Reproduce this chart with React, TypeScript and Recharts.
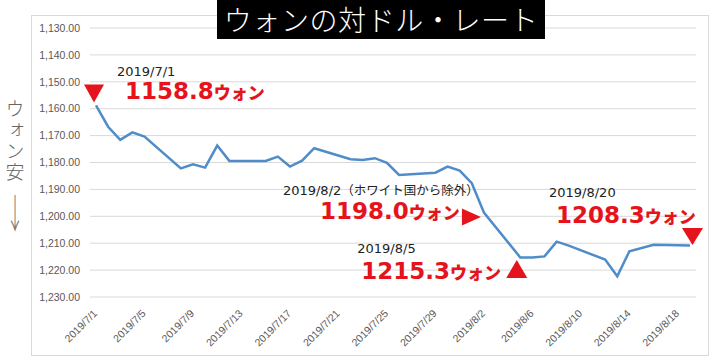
import React from "react";
import { LineChart, Line, XAxis, YAxis, CartesianGrid, ReferenceDot } from "recharts";

// calendar days on the x axis (weekends / holidays have no rate)
const days = [
  "2019/7/1", "2019/7/2", "2019/7/3", "2019/7/4", "2019/7/5", "2019/7/6", "2019/7/7",
  "2019/7/8", "2019/7/9", "2019/7/10", "2019/7/11", "2019/7/12", "2019/7/13", "2019/7/14",
  "2019/7/15", "2019/7/16", "2019/7/17", "2019/7/18", "2019/7/19", "2019/7/20", "2019/7/21",
  "2019/7/22", "2019/7/23", "2019/7/24", "2019/7/25", "2019/7/26", "2019/7/27", "2019/7/28",
  "2019/7/29", "2019/7/30", "2019/7/31", "2019/8/1", "2019/8/2", "2019/8/3", "2019/8/4",
  "2019/8/5", "2019/8/6", "2019/8/7", "2019/8/8", "2019/8/9", "2019/8/10", "2019/8/11",
  "2019/8/12", "2019/8/13", "2019/8/14", "2019/8/15", "2019/8/16", "2019/8/17", "2019/8/18",
  "2019/8/19",
];

const rates: (number | null)[] = [
  1158.8, 1166.7, 1171.6, 1168.8, 1170.4, null, null,
  1182.2, 1180.7, 1181.9, 1173.7, 1179.4, null, null,
  1179.4, 1177.8, 1181.5, 1179.3, 1174.7, null, null,
  1178.8, 1179.1, 1178.4, 1180.1, 1184.6, null, null,
  1183.8, 1181.5, 1183.0, 1187.7, 1198.6, null, null,
  1215.3, 1215.3, 1214.9, 1209.4, 1210.9, null, null,
  1216.1, 1222.3, 1213.0, null, 1210.6, null, null,
  1210.9,
];

const yTicks = [1130, 1140, 1150, 1160, 1170, 1180, 1190, 1200, 1210, 1220, 1230];

const title = "ウォンの対ドル・レート";
const sideLabel = "ウォン安";

const noteDays = ["2019/7/1", "2019/8/2", "2019/8/5", "2019/8/19"];
const noteDates = ["2019/7/1", "2019/8/2", "2019/8/5", "2019/8/20"];
const noteMemos = ["", "（ホワイト国から除外）", "", ""];
const noteAmounts = ["1158.8", "1198.0", "1215.3", "1208.3"];

const data = days.map((day, i) => ({ day, rate: rates[i] }));

const RED = "#e5141c";

// offsets relative to the anchored point
const layout = [
  { tri: "-12,-21 8,-21 -2,-3", date: [21, -29], amt: [29, -6] },
  { tri: "-22,-4 -22,13 -3,4.5", date: [-201, -18], amt: [-164, 6.5] },
  { tri: "-14,20.5 7,20.5 -3.5,2.5", date: [-163, -4], amt: [-159, 21.5] },
  { tri: "-8,-17.6 13,-17.6 2.5,-0.6", date: [-141, -48.6], amt: [-134, -22.6] },
];

const fmt = (v: number) =>
  v.toLocaleString("en-US", { minimumFractionDigits: 2, maximumFractionDigits: 2 });

const DayTick = (props: any) => {
  const { x, y, payload } = props;
  const ax = x + 2;
  const ay = y + 9;
  return (
    <text
      x={ax}
      y={ay}
      transform={`rotate(-45 ${ax} ${ay})`}
      textAnchor="end"
      fontSize={10.5}
      fill="#595959"
      fontFamily="Liberation Sans"
    >
      {payload.value}
    </text>
  );
};

const noteShape = (i: number) => (props: any) => {
  const { cx, cy } = props;
  const l = layout[i];
  const pts = l.tri
    .split(" ")
    .map((p) => {
      const [a, b] = p.split(",").map(Number);
      return `${cx + a},${cy + b}`;
    })
    .join(" ");
  return (
    <g>
      <polygon points={pts} fill={RED} />
      <text x={cx + l.date[0]} y={cy + l.date[1]} fontSize={13} fill="#222" fontFamily="DejaVu Sans">
        {noteDates[i]}
        {noteMemos[i] && (
          <tspan fontFamily="Noto Sans CJK JP" fontSize={12.5}>
            {noteMemos[i]}
          </tspan>
        )}
      </text>
      <text x={cx + l.amt[0]} y={cy + l.amt[1]} fill={RED}>
        <tspan fontFamily="DejaVu Sans" fontWeight={700} fontSize={23}>
          {noteAmounts[i]}
        </tspan>
        <tspan fontFamily="Noto Sans CJK JP" fontWeight={900} fontSize={17}>
          ウォン
        </tspan>
      </text>
    </g>
  );
};

export default function App() {
  return (
    <div style={{ position: "absolute", left: 0, top: 0, width: 714, height: 358, background: "#fff" }}>
      <div
        style={{
          position: "absolute",
          left: 31,
          top: 15,
          width: 678,
          height: 341,
          border: "1px solid #d9d9d9",
          boxSizing: "border-box",
        }}
      />
      <div style={{ position: "absolute", left: 0, top: 0 }}>
        <LineChart width={714} height={358} data={data} margin={{ top: 28, right: 18, left: 30, bottom: 11 }}>
          <CartesianGrid vertical={false} stroke="#d9d9d9" />
          <XAxis
            dataKey="day"
            interval={3}
            padding={{ left: 6, right: 6 }}
            axisLine={false}
            tickLine={false}
            height={50}
            tick={<DayTick />}
          />
          <YAxis
            type="number"
            domain={[1130, 1230]}
            reversed
            ticks={yTicks}
            width={60}
            axisLine={false}
            tickLine={false}
            tickMargin={4}
            tickFormatter={fmt}
            tick={{ fill: "#595959", fontSize: 10.5, fontFamily: "Liberation Sans" }}
          />
          <Line
            type="linear"
            dataKey="rate"
            stroke="#4f8cc9"
            strokeWidth={2.5}
            dot={false}
            connectNulls
            isAnimationActive={false}
          />
          {noteDays.map((d, i) => (
            <ReferenceDot key={d} x={d} y={rates[days.indexOf(d)] as number} r={0} shape={noteShape(i)} />
          ))}
        </LineChart>
      </div>
      <div
        style={{
          position: "absolute",
          left: 217,
          top: 0,
          width: 328,
          height: 39,
          background: "#000",
          color: "#fff",
          fontFamily: "Noto Sans CJK JP",
          fontWeight: 300,
          fontSize: 28,
          lineHeight: "39px",
          textAlign: "center",
          letterSpacing: 0.6,
          whiteSpace: "nowrap",
        }}
      >
        {title}
      </div>
      <svg style={{ position: "absolute", left: 0, top: 0 }} width={32} height={240}>
        <text
          x={15}
          y={99}
          style={{ writingMode: "vertical-rl" }}
          fontSize={19}
          letterSpacing={2}
          fill="#666"
          fontFamily="Noto Sans CJK JP"
          fontWeight={300}
        >
          {sideLabel}
        </text>
        <text
          transform="translate(15 228) scale(1 2.2)"
          textAnchor="middle"
          fontSize={18}
          fill="#777"
          fontFamily="Noto Sans CJK JP"
          fontWeight={300}
        >
          ↓
        </text>
      </svg>
    </div>
  );
}
